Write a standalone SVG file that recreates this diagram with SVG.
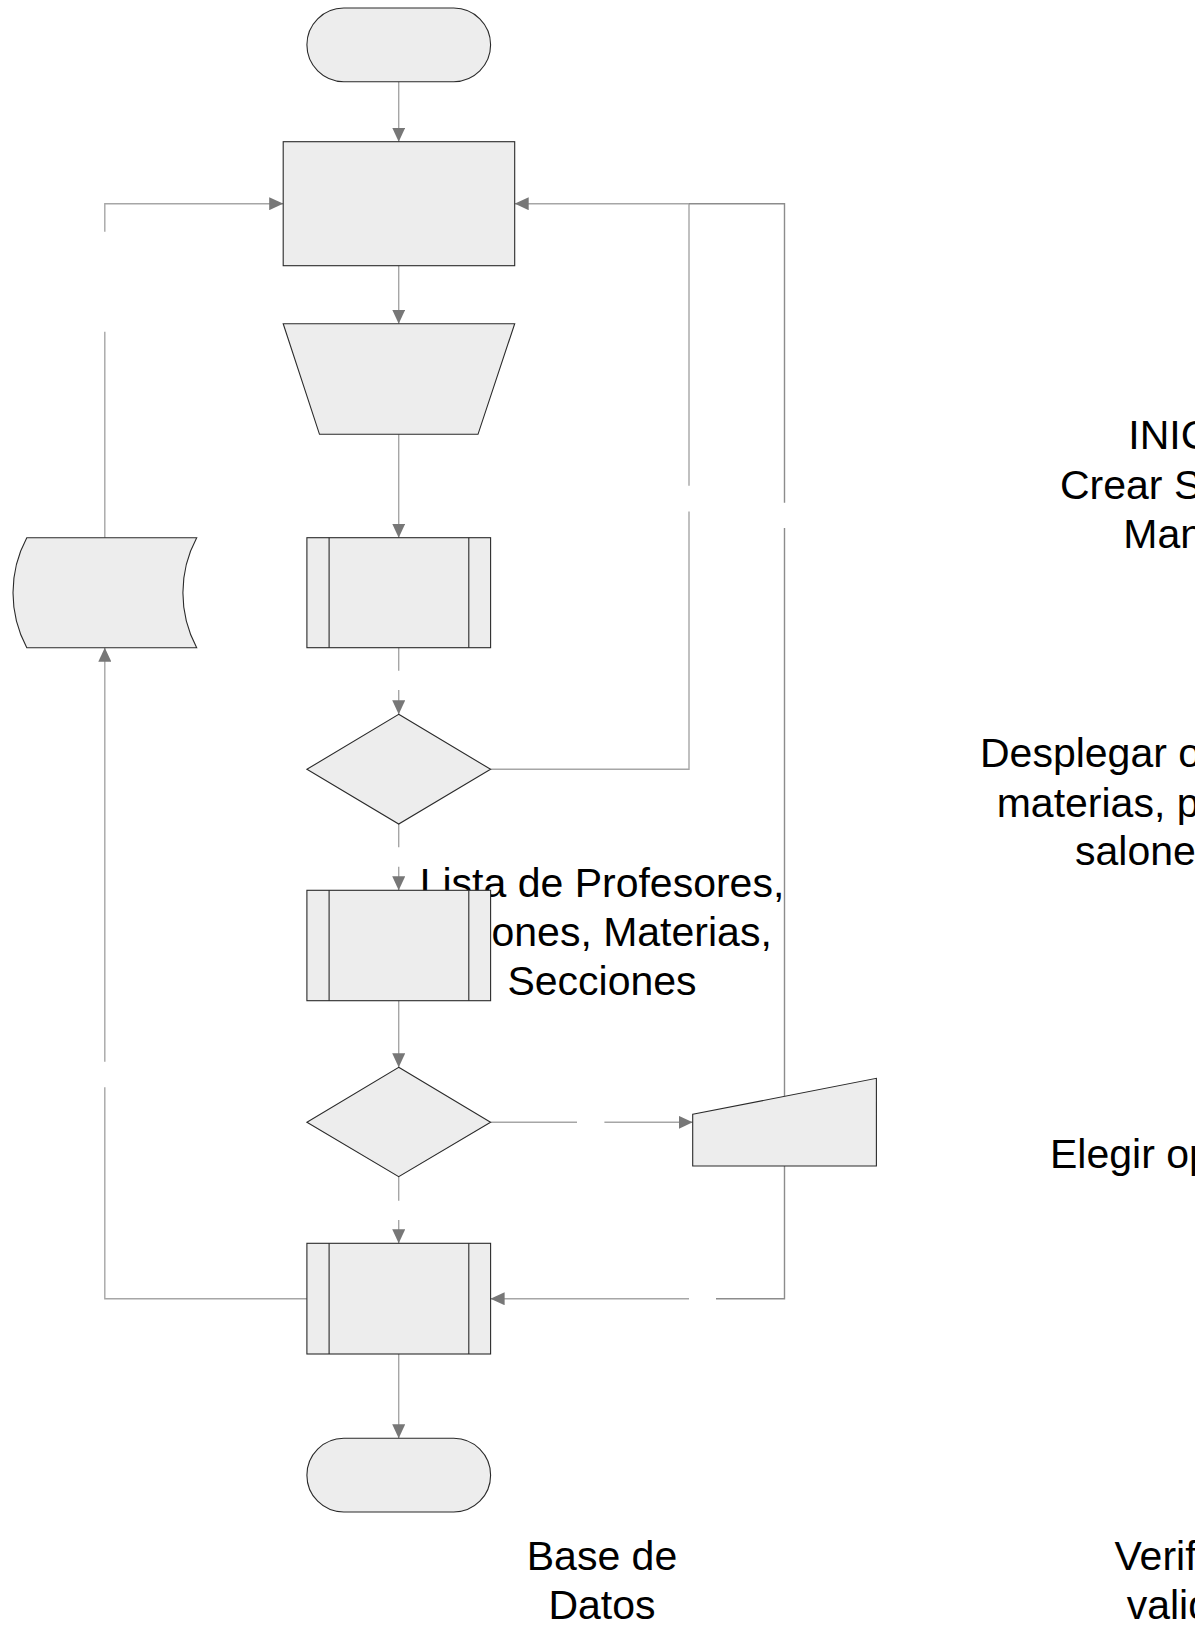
<svg xmlns="http://www.w3.org/2000/svg" width="1195" height="1625" viewBox="0 0 1195 1625">
  <style>
    .node { fill: #ededed; stroke: #2a2a2a; stroke-width: 1.1; }
    .inner { fill: none; stroke: #2a2a2a; stroke-width: 1.1; }
    .conn { fill: none; stroke: #a6a6a6; stroke-width: 1.4; }
    .conn2 { fill: none; stroke: #8c8c8c; stroke-width: 1.4; }
    .lbl { font-family: "Liberation Sans", Arial, sans-serif; font-size: 41px; fill: #000; }
    .mid { text-anchor: middle; }
  </style>
  <defs>
    <marker id="arrow" markerUnits="userSpaceOnUse" markerWidth="14" markerHeight="13" refX="14" refY="6.5" orient="auto">
      <path d="M0,0 L14,6.5 L0,13 Z" fill="#777777"/>
    </marker>
  </defs>
  <rect width="1195" height="1625" fill="#ffffff"/>

  <g id="connectors">
    <path class="conn" d="M398.7,81.7 V141.7" marker-end="url(#arrow)"/>
    <path class="conn" d="M398.7,265.7 V323.7" marker-end="url(#arrow)"/>
    <path class="conn" d="M398.7,434.3 V537.7" marker-end="url(#arrow)"/>
    <path class="conn" d="M398.7,647.7 V670.7"/>
    <path class="conn" d="M398.7,690 V714.3" marker-end="url(#arrow)"/>
    <path class="conn" d="M398.7,824 V847.3"/>
    <path class="conn" d="M398.7,866.7 V890.3" marker-end="url(#arrow)"/>
    <path class="conn" d="M398.7,1000.7 V1067.3" marker-end="url(#arrow)"/>
    <path class="conn" d="M398.7,1176.7 V1200.7"/>
    <path class="conn" d="M398.7,1220 V1243.3" marker-end="url(#arrow)"/>
    <path class="conn" d="M398.7,1354 V1438.3" marker-end="url(#arrow)"/>
    <!-- diamond 1 right loop back to process -->
    <path class="conn" d="M490.6,769.3 H689 V511.6"/>
    <path class="conn" d="M689,485.7 V203.7 H514.7" marker-end="url(#arrow)"/>
    <!-- diamond 2 right to manual input -->
    <path class="conn" d="M490.6,1122.3 H577"/>
    <path class="conn" d="M604.4,1122.3 H692.7" marker-end="url(#arrow)"/>
    <!-- manual input up to process -->
    <path class="conn2" d="M784.5,1096.3 V528.1"/>
    <path class="conn2" d="M784.5,502.7 V203.7 H689"/>
    <!-- manual input down to predefined 3 -->
    <path class="conn2" d="M784.5,1166 V1298.7 H716"/>
    <path class="conn" d="M689,1298.7 H490.6" marker-end="url(#arrow)"/>
    <!-- predefined 3 left up to stored data -->
    <path class="conn" d="M306.9,1298.7 H104.8 V1087.3"/>
    <path class="conn" d="M104.8,1061.7 V647.7" marker-end="url(#arrow)"/>
    <!-- stored data up to process -->
    <path class="conn" d="M104.8,537.7 V331.7"/>
    <path class="conn" d="M104.8,231.7 V203.7 H283.2" marker-end="url(#arrow)"/>
  </g>

  <g id="labels">
    <text class="lbl mid" x="602" y="897">Lista de Profesores,</text>
    <text class="lbl mid" x="602" y="946">Salones, Materias,</text>
    <text class="lbl mid" x="602" y="995">Secciones</text>
    <text class="lbl mid" x="602" y="1570">Base de</text>
    <text class="lbl mid" x="602" y="1619">Datos</text>
    <text class="lbl" x="1128.3" y="448.5">INIC</text>
    <text class="lbl" x="1060" y="498.5">Crear S</text>
    <text class="lbl" x="1123.3" y="548">Man</text>
    <text class="lbl" x="980" y="766.7">Desplegar o</text>
    <text class="lbl" x="996.7" y="816.5">materias, p</text>
    <text class="lbl" x="1075" y="865">salone</text>
    <text class="lbl" x="1050" y="1168.3">Elegir op</text>
    <text class="lbl" x="1114.5" y="1569.5">Verif</text>
    <text class="lbl" x="1126.7" y="1619">valid</text>
  </g>

  <g id="start">
    <rect class="node" x="306.9" y="8" width="183.7" height="73.7" rx="36.85" ry="36.85"/>
  </g>
  <g id="process">
    <rect class="node" x="283.2" y="141.7" width="231.5" height="124"/>
  </g>
  <g id="manual-operation">
    <path class="node" d="M283.2,323.7 H514.7 L478,434.3 H319.5 Z"/>
  </g>
  <g id="database">
    <path class="node" d="M26.8,537.7 H196.7 A116.5,116.5 0 0 0 196.7,647.7 H26.8 A116.5,116.5 0 0 1 26.8,537.7 Z"/>
  </g>
  <g id="predefined-1">
    <rect class="node" x="306.9" y="537.7" width="183.7" height="110"/>
    <path class="inner" d="M329.1,537.7 V647.7 M468.8,537.7 V647.7"/>
  </g>
  <g id="decision-1">
    <path class="node" d="M398.7,714.3 L490.6,769.3 L398.7,824 L306.9,769.3 Z"/>
  </g>
  <g id="predefined-2">
    <rect class="node" x="306.9" y="890.3" width="183.7" height="110.4"/>
    <path class="inner" d="M329.1,890.3 V1000.7 M468.8,890.3 V1000.7"/>
  </g>
  <g id="decision-2">
    <path class="node" d="M398.7,1067.3 L490.6,1122.3 L398.7,1176.7 L306.9,1122.3 Z"/>
  </g>
  <g id="manual-input">
    <path class="node" d="M692.7,1114.3 L876.4,1078.3 V1166 H692.7 Z"/>
  </g>
  <g id="predefined-3">
    <rect class="node" x="306.9" y="1243.3" width="183.7" height="110.7"/>
    <path class="inner" d="M329.1,1243.3 V1354 M468.8,1243.3 V1354"/>
  </g>
  <g id="end">
    <rect class="node" x="306.9" y="1438.3" width="183.7" height="73.7" rx="36.85" ry="36.85"/>
  </g>
</svg>
